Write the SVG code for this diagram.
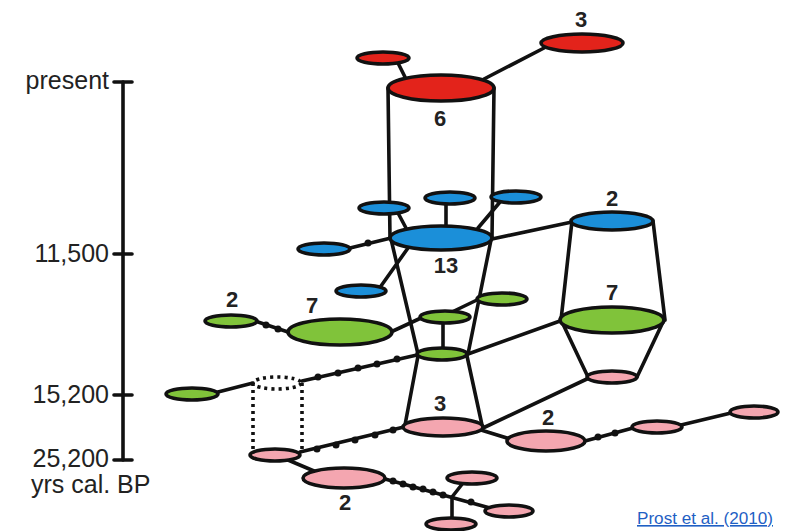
<svg xmlns="http://www.w3.org/2000/svg" width="792" height="531" viewBox="0 0 792 531">
  <style>
    .edge { stroke: #111; stroke-width: 3.6; fill: none; stroke-linecap: round; }
    .dash { stroke: #111; stroke-width: 3.6; fill: none; stroke-dasharray: 3 4; }
    .node { stroke: #111; stroke-width: 3.6; }
    .red { fill: #e3231b; }
    .blue { fill: #1b8fd9; }
    .green { fill: #80c33a; }
    .pink { fill: #f4a6b0; }
    .dot { fill: #111; }
    .lbl { font-family: "Liberation Sans", Arial, sans-serif; font-weight: bold; font-size: 22px; fill: #222; text-anchor: middle; }
    .axis { font-family: "Liberation Sans", Arial, sans-serif; font-size: 25px; fill: #222; }
    .cite { font-family: "Liberation Sans", Arial, sans-serif; font-size: 16px; fill: #1f5fc4; text-decoration: underline; }
  </style>

  <!-- time axis -->
  <g id="axis">
    <line class="edge" x1="123" y1="82" x2="123" y2="460" stroke-linecap="butt"/>
    <line class="edge" x1="114" y1="82" x2="132" y2="82"/>
    <line class="edge" x1="114" y1="254" x2="132" y2="254"/>
    <line class="edge" x1="114" y1="395" x2="132" y2="395"/>
    <line class="edge" x1="114" y1="460" x2="132" y2="460"/>
    <text class="axis" x="109" y="89" text-anchor="end">present</text>
    <text class="axis" x="109" y="262" text-anchor="end">11,500</text>
    <text class="axis" x="109" y="403" text-anchor="end">15,200</text>
    <text class="axis" x="109" y="467" text-anchor="end">25,200</text>
    <text class="axis" x="31" y="493">yrs cal. BP</text>
  </g>

  <!-- connectors -->
  <g id="connectors">
    <!-- red -->
    <line class="edge" x1="398" y1="63" x2="405" y2="77"/>
    <line class="edge" x1="544" y1="48" x2="484" y2="79"/>
    <!-- red to blue cylinder -->
    <line class="edge" x1="388" y1="88" x2="390" y2="238"/>
    <line class="edge" x1="494" y1="88" x2="492" y2="238"/>
    <!-- blue star -->
    <line class="edge" x1="398" y1="213" x2="406" y2="228"/>
    <line class="edge" x1="446" y1="204" x2="446" y2="226"/>
    <line class="edge" x1="500" y1="202" x2="478" y2="228"/>
    <line class="edge" x1="350" y1="248" x2="391" y2="238"/>
    <line class="edge" x1="381" y1="286" x2="408" y2="248"/>
    <line class="edge" x1="492" y1="239" x2="572" y2="222"/>
    <!-- blue 13 to green neck -->
    <line class="edge" x1="391" y1="239" x2="418" y2="354"/>
    <line class="edge" x1="491" y1="240" x2="468" y2="354"/>
    <!-- blue 2 to green 7 -->
    <line class="edge" x1="572" y1="221" x2="561" y2="320"/>
    <line class="edge" x1="653" y1="221" x2="665" y2="320"/>
    <!-- green 7 to pink -->
    <line class="edge" x1="562" y1="322" x2="588" y2="377"/>
    <line class="edge" x1="663" y1="322" x2="637" y2="377"/>
    <!-- green links -->
    <line class="edge" x1="258" y1="322" x2="288" y2="332"/>
    <line class="edge" x1="393" y1="331" x2="421" y2="318"/>
    <line class="edge" x1="452" y1="312" x2="479" y2="299"/>
    <line class="edge" x1="443" y1="323" x2="443" y2="348"/>
    <line class="edge" x1="468" y1="354" x2="560" y2="321"/>
    <line class="edge" x1="218" y1="392" x2="253" y2="383"/>
    <line class="edge" x1="302" y1="381" x2="417" y2="355"/>
    <!-- dotted uncertain node -->
    <ellipse class="dash" cx="277" cy="383" rx="24" ry="6"/>
    <line class="dash" x1="253" y1="383" x2="253" y2="452"/>
    <line class="dash" x1="302" y1="383" x2="302" y2="452"/>
    <!-- green neck to pink 3 -->
    <line class="edge" x1="418" y1="356" x2="405" y2="425"/>
    <line class="edge" x1="467" y1="356" x2="482" y2="425"/>
    <!-- pink links -->
    <line class="edge" x1="483" y1="428" x2="589" y2="378"/>
    <line class="edge" x1="300" y1="452" x2="404" y2="427"/>
    <line class="edge" x1="288" y1="460" x2="314" y2="471"/>
    <line class="edge" x1="481" y1="430" x2="510" y2="439"/>
    <line class="edge" x1="585" y1="441" x2="633" y2="428"/>
    <line class="edge" x1="681" y1="425" x2="731" y2="413"/>
    <line class="edge" x1="385" y1="479" x2="490" y2="508"/>
    <line class="edge" x1="452" y1="497" x2="463" y2="483"/>
    <line class="edge" x1="452" y1="497" x2="452" y2="518"/>

    <!-- intermediate mutation steps -->
    <circle class="dot" cx="368" cy="243" r="3.5"/>
    <circle class="dot" cx="266" cy="325" r="3.5"/>
    <circle class="dot" cx="278" cy="329" r="3.5"/>
    <circle class="dot" cx="318" cy="377" r="3.5"/>
    <circle class="dot" cx="338" cy="373" r="3.5"/>
    <circle class="dot" cx="358" cy="368" r="3.5"/>
    <circle class="dot" cx="377" cy="364" r="3.5"/>
    <circle class="dot" cx="397" cy="359" r="3.5"/>
    <circle class="dot" cx="317" cy="449" r="3.5"/>
    <circle class="dot" cx="336" cy="445" r="3.5"/>
    <circle class="dot" cx="355" cy="440" r="3.5"/>
    <circle class="dot" cx="375" cy="435" r="3.5"/>
    <circle class="dot" cx="393" cy="430" r="3.5"/>
    <circle class="dot" cx="393" cy="481" r="3.5"/>
    <circle class="dot" cx="403" cy="484" r="3.5"/>
    <circle class="dot" cx="413" cy="487" r="3.5"/>
    <circle class="dot" cx="423" cy="489" r="3.5"/>
    <circle class="dot" cx="433" cy="492" r="3.5"/>
    <circle class="dot" cx="443" cy="495" r="3.5"/>
    <circle class="dot" cx="471" cy="502" r="3.5"/>
    <circle class="dot" cx="598" cy="437" r="3.5"/>
    <circle class="dot" cx="615" cy="433" r="3.5"/>
  </g>

  <!-- red haplotypes -->
  <g id="red-small"><ellipse class="node red" cx="383" cy="58" rx="26" ry="6"/></g>
  <g id="red-3"><ellipse class="node red" cx="582" cy="43" rx="41" ry="9"/><text class="lbl" x="581" y="27">3</text></g>
  <g id="red-6"><ellipse class="node red" cx="441" cy="88" rx="53" ry="13"/><text class="lbl" x="440" y="126">6</text></g>

  <!-- blue haplotypes -->
  <g id="blue-a"><ellipse class="node blue" cx="384" cy="208" rx="25" ry="6"/></g>
  <g id="blue-b"><ellipse class="node blue" cx="450" cy="198" rx="25" ry="6"/></g>
  <g id="blue-c"><ellipse class="node blue" cx="516" cy="197" rx="25" ry="6"/></g>
  <g id="blue-d"><ellipse class="node blue" cx="324" cy="249" rx="26" ry="6"/></g>
  <g id="blue-e"><ellipse class="node blue" cx="361" cy="291" rx="25" ry="6"/></g>
  <g id="blue-13"><ellipse class="node blue" cx="441" cy="238" rx="51" ry="12"/><text class="lbl" x="446" y="273">13</text></g>
  <g id="blue-2"><ellipse class="node blue" cx="612" cy="221" rx="41" ry="9"/><text class="lbl" x="612" y="206">2</text></g>

  <!-- green haplotypes -->
  <g id="green-2"><ellipse class="node green" cx="231" cy="321" rx="26" ry="6"/><text class="lbl" x="232" y="307">2</text></g>
  <g id="green-7a"><ellipse class="node green" cx="340" cy="332" rx="52" ry="13"/><text class="lbl" x="312" y="313">7</text></g>
  <g id="green-a"><ellipse class="node green" cx="445" cy="317" rx="25" ry="6"/></g>
  <g id="green-b"><ellipse class="node green" cx="502" cy="299" rx="25" ry="6"/></g>
  <g id="green-c"><ellipse class="node green" cx="442" cy="354" rx="25" ry="6"/></g>
  <g id="green-d"><ellipse class="node green" cx="192" cy="394" rx="26" ry="6"/></g>
  <g id="green-7b"><ellipse class="node green" cx="612" cy="320" rx="52" ry="13"/><text class="lbl" x="612" y="300">7</text></g>

  <!-- pink haplotypes -->
  <g id="pink-a"><ellipse class="node pink" cx="612" cy="377" rx="25" ry="6"/></g>
  <g id="pink-3"><ellipse class="node pink" cx="443" cy="427" rx="40" ry="9"/><text class="lbl" x="440" y="411">3</text></g>
  <g id="pink-b"><ellipse class="node pink" cx="275" cy="455" rx="25" ry="6"/></g>
  <g id="pink-2a"><ellipse class="node pink" cx="344" cy="478" rx="41" ry="10"/><text class="lbl" x="345" y="510">2</text></g>
  <g id="pink-2b"><ellipse class="node pink" cx="546" cy="441" rx="39" ry="10"/><text class="lbl" x="548" y="425">2</text></g>
  <g id="pink-c"><ellipse class="node pink" cx="657" cy="427" rx="25" ry="6"/></g>
  <g id="pink-d"><ellipse class="node pink" cx="754" cy="412" rx="24" ry="6"/></g>
  <g id="pink-e"><ellipse class="node pink" cx="472" cy="478" rx="25" ry="6"/></g>
  <g id="pink-f"><ellipse class="node pink" cx="451" cy="524" rx="25" ry="6"/></g>
  <g id="pink-g"><ellipse class="node pink" cx="509" cy="511" rx="24" ry="6"/></g>

  <text class="cite" x="637" y="524" textLength="136" lengthAdjust="spacingAndGlyphs">Prost et al. (2010)</text>
</svg>
